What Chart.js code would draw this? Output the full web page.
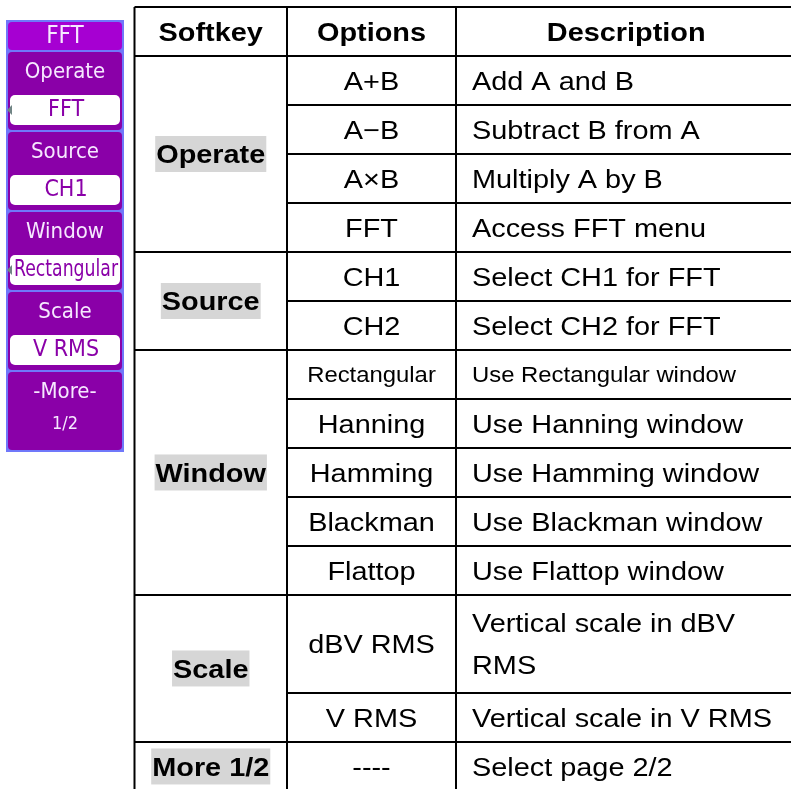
<!DOCTYPE html>
<html>
<head>
<meta charset="utf-8">
<script src="https://cdn.jsdelivr.net/npm/chart.js@4.4.1/dist/chart.umd.min.js"></script>
<style>
  html, body { margin: 0; padding: 0; background: #fff; overflow: hidden; }
  #wrap { width: 791px; height: 789px; overflow: hidden; }
</style>
</head>
<body>
<div id="wrap"><canvas id="fft_table" width="800" height="789"></canvas></div>
<script>
// table content
const headers = ['Softkey', 'Options', 'Description'];
const softkeys = ['Operate', 'Source', 'Window', 'Scale', 'More 1/2'];
const softkeyRows = [4, 2, 5, 2, 1];
const options = ['A+B', 'A\u2212B', 'A\u00D7B', 'FFT', 'CH1', 'CH2', 'Rectangular', 'Hanning',
  'Hamming', 'Blackman', 'Flattop', 'dBV RMS', 'V RMS', '----'];
const descriptions = ['Add A and B', 'Subtract B from A', 'Multiply A by B', 'Access FFT menu',
  'Select CH1 for FFT', 'Select CH2 for FFT', 'Use Rectangular window', 'Use Hanning window',
  'Use Hamming window', 'Use Blackman window', 'Use Flattop window',
  ['Vertical scale in dBV', 'RMS'], 'Vertical scale in V RMS', 'Select page 2/2'];
const rowUnits = [1, 1, 1, 1, 1, 1, 1, 1, 1, 1, 1, 2, 1, 1];

// softkey menu on the left
const menuTitle = 'FFT';
const menuKeys = ['Operate', 'Source', 'Window', 'Scale', '-More-'];
const menuValues = ['FFT', 'CH1', 'Rectangular', 'V RMS', '1/2'];

// layout / style
const colEdges = [0, 152.5, 321.5, 662];
const smallRows = [6];
const arrowKeys = [0, 2];
const FONT = '"Liberation Sans", Arial, sans-serif';
const MENU_FONT = '"DejaVu Sans Condensed", sans-serif';
const STRETCH = 1.11;

function stretchText(ctx, text, x, y, align, font, sx){
  ctx.save();
  ctx.font = font;
  let w = ctx.measureText(text).width * sx;
  let left = align == 'center' ? x - w / 2 : x;
  ctx.translate(left, y);
  ctx.scale(sx, 1);
  ctx.textAlign = 'left';
  ctx.textBaseline = 'alphabetic';
  ctx.fillText(text, 0, 0);
  ctx.restore();
  return w;
}

const menuPlugin = {
  id: 'menuPanel',
  afterDraw(chart){
    const ctx = chart.ctx;
    ctx.save();
    ctx.fillStyle = '#7078fa';
    ctx.fillRect(6, 20, 118, 432);
    ctx.fillStyle = '#a600d2';
    ctx.beginPath(); ctx.roundRect(8, 22, 114, 28, 4); ctx.fill();
    ctx.textAlign = 'center';
    ctx.textBaseline = 'middle';
    ctx.font = '24px ' + MENU_FONT;
    ctx.fillStyle = '#f6e8ff';
    ctx.fillText(menuTitle, 65, 37);
    menuKeys.forEach((key, i) => {
      let top = 52 + i * 80;
      ctx.fillStyle = '#8a00a8';
      ctx.beginPath(); ctx.roundRect(8, top, 114, 78, 4); ctx.fill();
      ctx.font = '22px ' + MENU_FONT;
      ctx.fillStyle = '#f6e8ff';
      ctx.fillText(key, 65, top + 20, 108);
      if (i < menuKeys.length - 1){
        ctx.fillStyle = '#ffffff';
        ctx.beginPath(); ctx.roundRect(10, top + 43, 110, 30, 5); ctx.fill();
        ctx.fillStyle = '#8a00a8';
        ctx.font = '23px ' + MENU_FONT;
        ctx.fillText(menuValues[i], 66, top + 58, 104);
        if (arrowKeys.includes(i)){
          ctx.fillStyle = '#708484';
          ctx.beginPath();
          ctx.moveTo(7, top + 58); ctx.lineTo(12, top + 53); ctx.lineTo(12, top + 63);
          ctx.closePath(); ctx.fill();
        }
      } else {
        ctx.font = '18px ' + MENU_FONT;
        ctx.fillText(menuValues[i], 65, top + 52);
      }
    });
    ctx.restore();
  }
};

const tablePlugin = {
  id: 'fftTable',
  afterDraw(chart){
    const ctx = chart.ctx;
    const x = chart.scales.x, y = chart.scales.y;
    const cx = colEdges.map(v => x.getPixelForValue(v));
    let edges = [0, 1];
    rowUnits.forEach(u => edges.push(edges[edges.length - 1] + u));
    const ey = edges.map(v => y.getPixelForValue(v));

    let groupEnds = [], acc = 0;
    softkeyRows.forEach(n => { acc += n; groupEnds.push(acc); });

    ctx.save();
    ctx.strokeStyle = '#000';
    ctx.lineWidth = 2;
    ctx.beginPath();
    ctx.moveTo(cx[0], ey[0]); ctx.lineTo(cx[3], ey[0]);
    ctx.moveTo(cx[0], ey[1]); ctx.lineTo(cx[3], ey[1]);
    for (let r = 1; r <= options.length; r++){
      let full = groupEnds.includes(r);
      ctx.moveTo(full ? cx[0] : cx[1], ey[r + 1]);
      ctx.lineTo(cx[3], ey[r + 1]);
    }
    cx.forEach(px => { ctx.moveTo(px, ey[0]); ctx.lineTo(px, ey[ey.length - 1]); });
    ctx.stroke();

    ctx.fillStyle = '#000';
    const bold = `bold 26px ${FONT}`, normal = `26px ${FONT}`, small = `21.5px ${FONT}`;
    const cap = 9.3;
    headers.forEach((h, i) => {
      stretchText(ctx, h, (cx[i] + cx[i + 1]) / 2, (ey[0] + ey[1]) / 2 + cap, 'center', bold, STRETCH);
    });

    let start = 0;
    softkeys.forEach((s, i) => {
      let top = ey[start + 1], bottom = ey[start + softkeyRows[i] + 1];
      let mid = (top + bottom) / 2;
      ctx.font = bold;
      let w = ctx.measureText(s).width * STRETCH;
      ctx.fillStyle = '#d6d6d6';
      ctx.fillRect((cx[0] + cx[1]) / 2 - w / 2 - 1, mid - 18, w + 2, 36);
      ctx.fillStyle = '#000';
      stretchText(ctx, s, (cx[0] + cx[1]) / 2, mid + cap, 'center', bold, STRETCH);
      start += softkeyRows[i];
    });

    options.forEach((o, r) => {
      let mid = (ey[r + 1] + ey[r + 2]) / 2;
      let isSmall = smallRows.includes(r);
      stretchText(ctx, o, (cx[1] + cx[2]) / 2, mid + (isSmall ? 7.7 : cap), 'center',
        isSmall ? small : normal, STRETCH);
      let d = descriptions[r];
      if (Array.isArray(d)){
        d.forEach((line, k) => {
          stretchText(ctx, line, cx[2] + 16, mid - 21 + k * 42 + cap, 'left', normal, STRETCH);
        });
      } else {
        stretchText(ctx, d, cx[2] + 16, mid + (isSmall ? 7.7 : cap), 'left',
          isSmall ? small : normal, STRETCH);
      }
    });
    ctx.restore();
  }
};

new Chart('fft_table', {
  type: 'scatter',
  data: { datasets: [{ data: [] }] },
  options: {
    responsive: false,
    animation: false,
    devicePixelRatio: 1,
    layout: { padding: { left: 134.5, top: 7, right: 3.5, bottom: 0 } },
    plugins: { legend: { display: false }, tooltip: { enabled: false } },
    scales: {
      x: { type: 'linear', min: 0, max: 662, display: false },
      y: { type: 'linear', min: 0, max: 15.96, reverse: true, display: false }
    }
  },
  plugins: [menuPlugin, tablePlugin]
});
</script>
</body>
</html>
